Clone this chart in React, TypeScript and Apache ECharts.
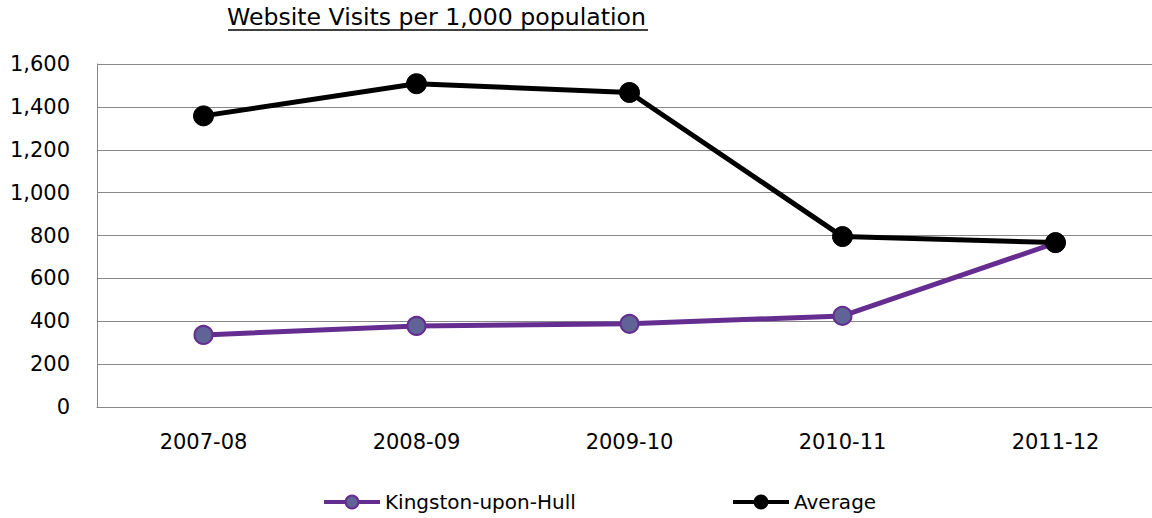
import React, { useEffect, useRef } from "react";
import * as echarts from "echarts";

const categories = ["2007-08", "2008-09", "2009-10", "2010-11", "2011-12"];
const hullValues = [336, 378, 388, 425, 765];
const averageValues = [1358, 1508, 1467, 795, 767];
const yTicks = { min: 0, max: 1600, interval: 200 };
const titleText = "Website Visits per 1,000 population";

const FONT = "'DejaVu Sans', Verdana, sans-serif";

export default function App() {
  const ref = useRef<HTMLDivElement>(null);
  useEffect(() => {
    if (!ref.current) return;
    const chart = echarts.init(ref.current, null, { renderer: "svg" });
    chart.setOption({
      animation: false,
      backgroundColor: "#ffffff",
      textStyle: { fontFamily: FONT },
      title: {
        text: titleText,
        left: 227,
        top: 5,
        padding: 0,
        textStyle: { fontFamily: FONT, fontSize: 23.6, fontWeight: "normal", color: "#000" },
      },
      graphic: [
        {
          type: "line",
          shape: { x1: 228, y1: 30, x2: 648, y2: 30 },
          style: { stroke: "#000", lineWidth: 1.5 },
        },
      ],
      legend: [
        {
          data: ["Kingston-upon-Hull"],
          left: 322,
          top: 492,
          padding: 0,
          itemWidth: 56,
          itemHeight: 16,
          lineStyle: { width: 4 },
          textStyle: { fontFamily: FONT, fontSize: 20, color: "#000" },
        },
        {
          data: ["Average"],
          left: 731,
          top: 492,
          padding: 0,
          itemWidth: 56,
          itemHeight: 16,
          lineStyle: { width: 4 },
          textStyle: { fontFamily: FONT, fontSize: 20, color: "#000" },
        },
      ],
      grid: { left: 97, top: 64, width: 1065, height: 343, containLabel: false },
      xAxis: {
        type: "category",
        data: categories,
        boundaryGap: true,
        axisLine: { show: true, lineStyle: { color: "#888", width: 1 } },
        axisTick: { show: false },
        axisLabel: { fontFamily: FONT, fontSize: 21, color: "#000", margin: 24 },
        splitLine: { show: false },
      },
      yAxis: {
        type: "value",
        min: yTicks.min,
        max: yTicks.max,
        interval: yTicks.interval,
        axisLine: { show: true, lineStyle: { color: "#888", width: 1 } },
        axisTick: { show: false },
        axisLabel: {
          fontFamily: FONT,
          fontSize: 21,
          color: "#000",
          margin: 27,
          formatter: (v: number) => v.toLocaleString("en-US"),
        },
        splitLine: { show: true, lineStyle: { color: "#888", width: 1 } },
      },
      series: [
        {
          name: "Kingston-upon-Hull",
          type: "line",
          data: hullValues,
          symbol: "circle",
          symbolSize: 18,
          lineStyle: { color: "#662d91", width: 5 },
          itemStyle: { color: "#5f6396", borderColor: "#662d91", borderWidth: 2 },
          z: 2,
        },
        {
          name: "Average",
          type: "line",
          data: averageValues,
          symbol: "circle",
          symbolSize: 20,
          lineStyle: { color: "#000", width: 5 },
          itemStyle: { color: "#000", borderColor: "#000", borderWidth: 1 },
          z: 3,
        },
      ],
    });
    return () => chart.dispose();
  }, []);
  return (
    <div
      ref={ref}
      style={{ position: "fixed", left: 0, top: 0, width: 1165, height: 518 }}
    />
  );
}
